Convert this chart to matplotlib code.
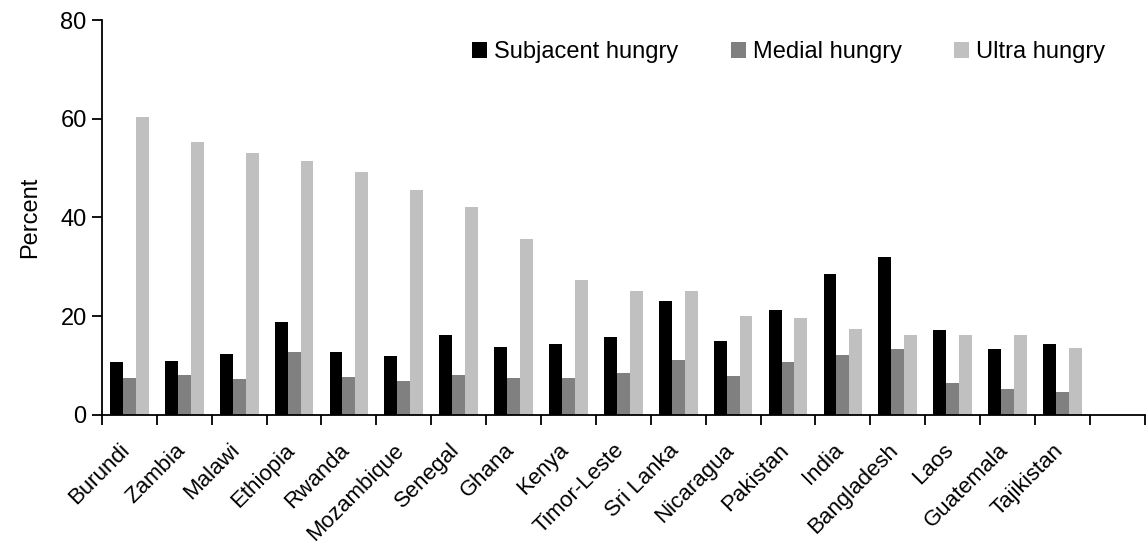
import numpy as np
import matplotlib
matplotlib.use('Agg')
import matplotlib.pyplot as plt
import matplotlib.transforms as mtransforms
from matplotlib.patches import Patch

plt.rcParams['font.family'] = ['Liberation Sans', 'DejaVu Sans']

countries = ['Burundi', 'Zambia', 'Malawi', 'Ethiopia', 'Rwanda', 'Mozambique',
             'Senegal', 'Ghana', 'Kenya', 'Timor-Leste', 'Sri Lanka', 'Nicaragua',
             'Pakistan', 'India', 'Bangladesh', 'Laos', 'Guatemala', 'Tajikistan']
subjacent = [10.7, 10.9, 12.3, 18.8, 12.7, 11.9, 16.1, 13.7, 14.3, 15.7, 23.0, 14.9,
             21.3, 28.6, 32.0, 17.2, 13.3, 14.4]
medial = [7.4, 8.0, 7.2, 12.7, 7.6, 6.8, 8.0, 7.4, 7.4, 8.4, 11.1, 7.8,
          10.7, 12.1, 13.3, 6.4, 5.2, 4.6]
ultra = [60.3, 55.3, 53.0, 51.4, 49.2, 45.5, 42.1, 35.6, 27.3, 25.1, 25.1, 20.0,
         19.6, 17.4, 16.1, 16.1, 16.1, 13.5]
series_names = ['Subjacent hungry', 'Medial hungry', 'Ultra hungry']
colors = ['#000000', '#808080', '#c0c0c0']

fig = plt.figure(figsize=(11.47, 5.5), dpi=100)
ax = fig.add_axes([0.0889, 0.246, 0.9091, 0.7176])

n = len(countries)
x = np.arange(n) + 0.5
w = 0.235
for i, (vals, c) in enumerate(zip([subjacent, medial, ultra], colors)):
    ax.bar(x + (i - 1) * w, vals, width=w, color=c, linewidth=0)

ax.set_xlim(0, n + 1)
ax.set_ylim(0, 80)
ax.set_yticks([0, 20, 40, 60, 80])
ax.set_xticks(np.arange(0, n + 2))
ax.set_xticklabels([])
ax.set_xticks(x, minor=True)
ax.set_xticklabels(countries, minor=True, rotation=45, ha='right',
                   rotation_mode='anchor', fontsize=16)
ax.tick_params(axis='x', which='minor', length=0, pad=18)
ax.tick_params(axis='both', which='major', direction='out', length=7, width=1.3,
               labelsize=17)
ax.tick_params(axis='y', pad=4)

# nudge the rotated country names a bit to the left
shift = mtransforms.ScaledTranslation(-0.1, 0, fig.dpi_scale_trans)
for lbl in ax.get_xticklabels(minor=True):
    lbl.set_transform(lbl.get_transform() + shift)

for s in ['top', 'right']:
    ax.spines[s].set_visible(False)
for s in ['left', 'bottom']:
    ax.spines[s].set_linewidth(1.3)

ax.set_ylabel('Percent', fontsize=17, labelpad=14)

handles = [Patch(facecolor=c, edgecolor='none') for c in colors]
fig.legend(handles, series_names, loc='center left', bbox_to_anchor=(0.393, 0.905),
           ncol=3, frameon=False, fontsize=17, handlelength=0.65, handleheight=0.65,
           handletextpad=0.3, columnspacing=2.2)

fig.savefig('out.png', dpi=100)
